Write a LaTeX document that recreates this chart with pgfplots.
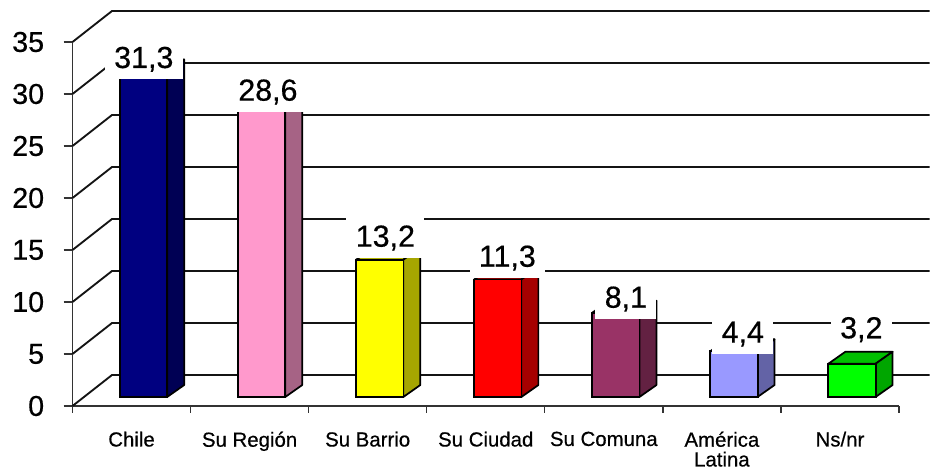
\documentclass[border=0pt]{standalone}
\usepackage{pgfplots}
\pgfplotsset{compat=1.18}
\usepackage{fontspec}
\setmainfont[FakeBold=0.5]{Liberation Sans}
\newfontfamily\heavy[FakeBold=0.5]{Liberation Sans}
\definecolor{gridc}{HTML}{141414}
\definecolor{axisc}{HTML}{333333}
\tikzset{val/.style={fill=white, anchor=base, inner ysep=0pt, inner xsep=7pt, text height=22pt, text depth=8.25pt, font=\fontsize{22.8}{22.8}\heavy}}
\begin{document}
\begin{tikzpicture}
\path[use as bounding box] (0,0) rectangle (697.5pt,352.5pt);
\begin{axis}[
  at={(54.375pt,48pt)}, anchor=south west,
  scale only axis, width=619.875pt, height=273pt,
  xmin=0, xmax=7, ymin=0, ymax=35, clip=false,
  axis lines=left, axis line style={-, axisc, line width=1.3pt},
  /pgf/number format/assume math mode=true,
  ytick={0,5,10,15,20,25,30,35},
  xtick={0.5,1.5,2.5,3.5,4.5,5.5,6.5},
  xticklabels={Chile,Su Región,Su Barrio,Su Ciudad,Su Comuna,{América\\Latina},Ns/nr},
  minor xtick={0,1,2,3,4,5,6,7},
  major tick length=6.75pt, minor tick length=4.9pt,
  tick align=outside, tick pos=left,
  tick style={axisc, line width=1pt},
  major x tick style={draw=none},
  y tick label style={font=\fontsize{21.5}{21.5}\heavy, xshift=-11pt},
  x tick label style={font=\fontsize{15.3}{14.8}\heavy, align=center, anchor=north, yshift=-9pt},
  grid line/.style={gridc, line width=1.4pt, forget plot},
  front/.style={ybar, bar width=35.6pt, draw=black, line width=1.3pt, xshift=9pt, yshift=6.75pt, forget plot},
  face/.style={draw=black, line width=1.3pt, line join=round, xshift=9pt, yshift=6.75pt, forget plot},
]
% back wall grid
\addplot[grid line] coordinates {(0,0)(0.3345,2.98)(7.26,2.98)};
\addplot[grid line] coordinates {(0,5)(0.3345,7.98)(7.26,7.98)};
\addplot[grid line] coordinates {(0,10)(0.3345,12.98)(7.26,12.98)};
\addplot[grid line] coordinates {(0,15)(0.3345,17.98)(7.26,17.98)};
\addplot[grid line] coordinates {(0,20)(0.3345,22.98)(7.26,22.98)};
\addplot[grid line] coordinates {(0,25)(0.3345,27.98)(7.26,27.98)};
\addplot[grid line] coordinates {(0,30)(0.3345,32.98)(7.26,32.98)};
\addplot[grid line] coordinates {(0,35)(0.3345,37.98)(7.26,37.98)};
% Chile
\addplot[face, fill={rgb,255:red,0;green,0;blue,102}] coordinates {(0.3,31.3)(0.444,32.45)(0.844,32.45)(0.7,31.3)} --cycle;
\addplot[face, fill={rgb,255:red,0;green,0;blue,84}] coordinates {(0.7,0)(0.844,1.15)(0.844,32.45)(0.7,31.3)} --cycle;
\addplot[front, fill={rgb,255:red,0;green,0;blue,128}] coordinates {(0.5,31.3)};
% Su Region
\addplot[face, fill={rgb,255:red,204;green,122;blue,163}] coordinates {(1.3,28.6)(1.444,29.75)(1.844,29.75)(1.7,28.6)} --cycle;
\addplot[face, fill={rgb,255:red,166;green,99;blue,133}] coordinates {(1.7,0)(1.844,1.15)(1.844,29.75)(1.7,28.6)} --cycle;
\addplot[front, fill={rgb,255:red,255;green,153;blue,204}] coordinates {(1.5,28.6)};
% Su Barrio
\addplot[face, fill={rgb,255:red,204;green,204;blue,0}] coordinates {(2.3,13.2)(2.444,14.35)(2.844,14.35)(2.7,13.2)} --cycle;
\addplot[face, fill={rgb,255:red,166;green,166;blue,0}] coordinates {(2.7,0)(2.844,1.15)(2.844,14.35)(2.7,13.2)} --cycle;
\addplot[front, fill={rgb,255:red,255;green,255;blue,0}] coordinates {(2.5,13.2)};
% Su Ciudad
\addplot[face, fill={rgb,255:red,204;green,0;blue,0}] coordinates {(3.3,11.3)(3.444,12.45)(3.844,12.45)(3.7,11.3)} --cycle;
\addplot[face, fill={rgb,255:red,166;green,0;blue,0}] coordinates {(3.7,0)(3.844,1.15)(3.844,12.45)(3.7,11.3)} --cycle;
\addplot[front, fill={rgb,255:red,255;green,0;blue,0}] coordinates {(3.5,11.3)};
% Su Comuna
\addplot[face, fill={rgb,255:red,122;green,41;blue,82}] coordinates {(4.3,8.1)(4.444,9.25)(4.844,9.25)(4.7,8.1)} --cycle;
\addplot[face, fill={rgb,255:red,99;green,33;blue,66}] coordinates {(4.7,0)(4.844,1.15)(4.844,9.25)(4.7,8.1)} --cycle;
\addplot[front, fill={rgb,255:red,153;green,51;blue,102}] coordinates {(4.5,8.1)};
% America Latina
\addplot[face, fill={rgb,255:red,122;green,122;blue,204}] coordinates {(5.3,4.4)(5.444,5.55)(5.844,5.55)(5.7,4.4)} --cycle;
\addplot[face, fill={rgb,255:red,99;green,99;blue,166}] coordinates {(5.7,0)(5.844,1.15)(5.844,5.55)(5.7,4.4)} --cycle;
\addplot[front, fill={rgb,255:red,153;green,153;blue,255}] coordinates {(5.5,4.4)};
% Ns/nr
\addplot[face, fill={rgb,255:red,0;green,191;blue,0}] coordinates {(6.3,3.2)(6.444,4.35)(6.844,4.35)(6.7,3.2)} --cycle;
\addplot[face, fill={rgb,255:red,0;green,166;blue,0}] coordinates {(6.7,0)(6.844,1.15)(6.844,4.35)(6.7,3.2)} --cycle;
\addplot[front, fill={rgb,255:red,0;green,255;blue,0}] coordinates {(6.5,3.2)};
% value labels
\node[val] at (axis cs:0.604,32.5) {31,3};
\node[val] at (axis cs:1.655,29.36) {28,6};
\node[val] at (axis cs:2.650,15.32) {13,2};
\node[val] at (axis cs:3.683,13.39) {11,3};
\node[val] at (axis cs:4.687,9.45) {8,1};
\node[val] at (axis cs:5.677,6.09) {4,4};
\node[val] at (axis cs:6.681,6.51) {3,2};
\end{axis}
\end{tikzpicture}
\end{document}
